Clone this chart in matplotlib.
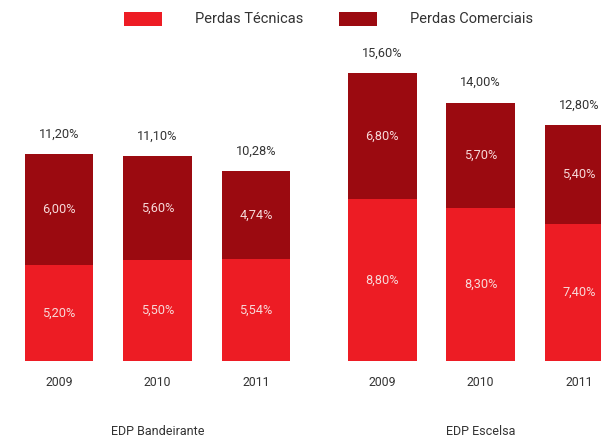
import matplotlib
matplotlib.use("Agg")
import matplotlib.pyplot as plt
import numpy as np

plt.rcParams['font.family'] = ['Roboto', 'DejaVu Sans']

# data
empresas = ['EDP Bandeirante', 'EDP Escelsa']
anos = ['2009', '2010', '2011']
tecnicas_band = [5.20, 5.50, 5.54]
comerciais_band = [6.00, 5.60, 4.74]
tecnicas_esc = [8.80, 8.30, 7.40]
comerciais_esc = [6.80, 5.70, 5.40]

RED = '#ED1C24'
DARK = '#9B0A10'
TXT = '#333333'
INNER = '#F7D9D9'

def fmt(v):
    return f'{v:.2f}'.replace('.', ',') + '%'

fig = plt.figure(figsize=(6.01, 4.45), dpi=100)
ax = fig.add_axes([0, 84 / 445, 1, 361 / 445])
ax.set_xlim(-0.599, 5.503)
ax.set_ylim(0, 19.57)
ax.axis('off')

gap = 3.28  # offset of the second group
groups = [(tecnicas_band, comerciais_band, 0.0), (tecnicas_esc, comerciais_esc, gap)]
w = 0.70

for gi, (tec, com, off) in enumerate(groups):
    x = np.arange(len(anos)) + off
    tec = np.array(tec)
    com = np.array(com)
    ax.bar(x, tec, w, color=RED, edgecolor='none',
           label='Perdas Técnicas' if gi == 0 else None)
    ax.bar(x, com, w, bottom=tec, color=DARK, edgecolor='none',
           label='Perdas Comerciais' if gi == 0 else None)
    for xi, t, c in zip(x, tec, com):
        ax.text(xi, t / 2, fmt(t), ha='center', va='center', color=INNER, fontsize=9.2)
        ax.text(xi, t + c / 2, fmt(c), ha='center', va='center', color=INNER, fontsize=9.2)
        ax.annotate(fmt(t + c), (xi, t + c), xytext=(0, 14.4), textcoords='offset points',
                    ha='center', va='center', color=TXT, fontsize=9.2)
    for xi, a in zip(x, anos):
        ax.annotate(a, (xi, 0), xytext=(0, -15.8), textcoords='offset points',
                    ha='center', va='center', color=TXT, fontsize=8.8,
                    annotation_clip=False)
    ax.annotate(empresas[gi], (x[1], 0), xytext=(0, -51), textcoords='offset points',
                ha='center', va='center', color=TXT, fontsize=9,
                annotation_clip=False)

fig.legend(loc='center', bbox_to_anchor=(0.547, 1 - 19 / 445), ncol=2, frameon=False,
           fontsize=10.5, handlelength=2.6, handleheight=1.1, handletextpad=2.26,
           columnspacing=2.47, borderpad=0, labelcolor=TXT)

fig.savefig('out.png', dpi=100)
